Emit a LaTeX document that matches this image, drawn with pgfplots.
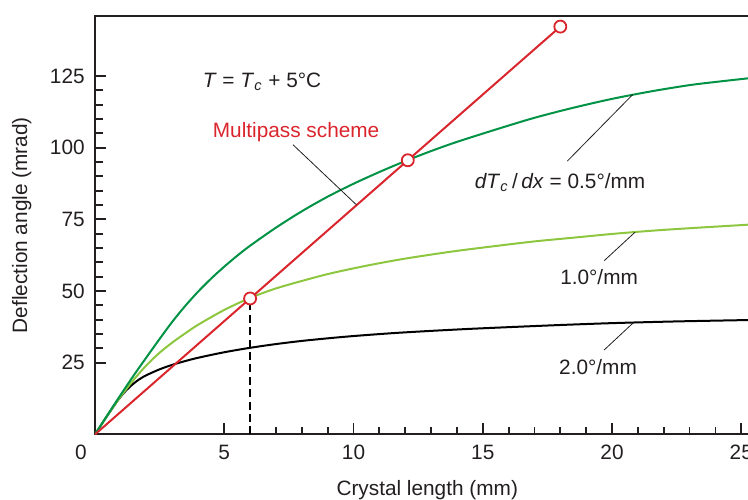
\documentclass[border=0pt]{standalone}
\usepackage{fontspec}
\setmainfont{Liberation Sans}
\usepackage{pgfplots}
\pgfplotsset{compat=1.18}
\usetikzlibrary{calc}

\definecolor{dgreen}{RGB}{0,146,69}
\definecolor{lgreen}{RGB}{141,198,63}
\definecolor{mred}{RGB}{218,37,45}
\definecolor{ink}{RGB}{35,31,32}

% deflection angle (mrad) vs crystal length (mm)
\pgfplotstableread{
x y
0 0
0.5 7.0
1.0 13.9
1.5 20.6
2.0 27.0
2.5 33.3
3.0 39.4
3.5 44.9
4.0 49.9
4.5 54.4
5.0 58.5
5.5 62.3
6.0 65.8
7.0 72.1
8.0 77.8
9.0 82.9
10.0 87.4
11.0 91.5
12.0 95.3
13.0 98.8
14.0 102.0
15.5 106.3
17.0 110.4
18.5 113.9
20.0 117.0
21.5 119.6
23.0 121.8
24.2 123.1
25.4 124.3
}\halfdeg

\pgfplotstableread{
x y
0 0
0.5 6.9
1.0 13.3
1.5 19.1
2.0 24.2
2.5 28.5
3.0 32.1
3.5 35.3
4.0 38.3
5.0 43.4
6.0 47.6
7.0 50.9
8.0 53.5
9.0 55.9
10.0 57.9
11.0 59.7
12.0 61.3
13.0 62.7
14.0 64.0
15.5 65.7
17.0 67.3
18.5 68.6
20.0 69.9
21.5 71.0
23.0 71.9
25.4 73.2
}\onedeg

\pgfplotstableread{
x y
0 0
0.4 5.5
0.8 10.8
1.0 13.2
1.2 15.3
1.4 17.0
1.6 18.5
1.8 19.7
2.0 20.7
2.5 22.7
3.0 24.3
3.5 25.6
4.0 26.75
5.0 28.65
6.0 30.2
7.0 31.5
8.0 32.6
9.0 33.5
10.0 34.3
11.5 35.3
13.0 36.1
14.5 36.8
16.0 37.4
18.0 38.15
20.0 38.8
22.5 39.4
25.4 39.9
}\twodeg

\begin{document}
\fontsize{10.4}{12.5}\selectfont
\begin{tikzpicture}
\begin{axis}[
  scale only axis, width=328.3pt, height=209.2pt,
  xmin=0, xmax=25.4, ymin=0, ymax=145.9,
  axis line style={line width=1pt, ink},
  tick align=inside, xtick pos=bottom, ytick pos=left,
  xtick={5,10,...,25}, ytick={25,50,...,125},
  minor x tick num=4, minor y tick num=4,
  major tick length=5.5pt, minor tick length=3.8pt,
  tick style={line width=0.9pt, ink},
  /pgf/number format/assume math mode=true,
  tick label style={font=\fontsize{10.4}{12}\selectfont, text=ink},
  xticklabel style={yshift=-1.5pt},
  yticklabel style={xshift=-1.5pt},
  xlabel={Crystal length (mm)},
  ylabel={Deflection angle (mrad)},
  every axis x label/.style={at={(axis description cs:0.506,0)}, anchor=north, yshift=-19.3pt, text=ink},
  every axis y label/.style={at={(axis description cs:-0.1117,0.5)}, rotate=90, anchor=center, text=ink},
]
\coordinate (o) at (axis cs:0,0);

\addplot[black, line width=1pt, dash pattern=on 4pt off 2.2pt] coordinates {(6,0) (6,46)};

\addplot[black, line width=1pt, smooth] table {\twodeg};
\addplot[lgreen, line width=1pt, smooth] table {\onedeg};
\addplot[dgreen, line width=1pt, smooth] table {\halfdeg};

\addplot[mred, line width=1pt, mark=*, mark indices={2,3,4}, mark size=3pt,
  mark options={fill=white, draw=mred, line width=0.9pt}]
  coordinates {(0,0) (6,47.4) (12.1,95.6) (18,142.2)};

% leader lines
\addplot[ink, line width=0.4pt] coordinates {(7.66,101.0) (10.12,80.0)};
\addplot[ink, line width=0.4pt] coordinates {(18.27,95.3) (20.80,118.5)};
\addplot[ink, line width=0.4pt] coordinates {(19.70,60.6) (20.89,70.5)};
\addplot[ink, line width=0.4pt] coordinates {(19.69,29.4) (20.82,38.9)};

\node[text=ink] at (axis cs:6.46,122.9) {\textit{T} = \textit{T}\textsubscript{\textit{c}} + 5°C};
\node[text=mred] at (axis cs:7.78,105.5) {Multipass scheme};
\node[text=ink] at (axis cs:17.99,87.7) {\textit{dT}\textsubscript{\textit{c}}\,/\,\textit{dx} = 0.5°/mm};
\node[text=ink] at (axis cs:19.50,55.0) {1.0°/mm};
\node[text=ink] at (axis cs:19.46,23.6) {2.0°/mm};
\end{axis}
\node[text=ink, anchor=north east, inner sep=0pt] at ($(o)+(-4pt,-5pt)$) {0};
\pgfresetboundingbox
\path ($(o)+(-47.5pt,-32.3pt)$) rectangle ($(o)+(326.5pt,217.2pt)$);
\end{tikzpicture}
\end{document}
